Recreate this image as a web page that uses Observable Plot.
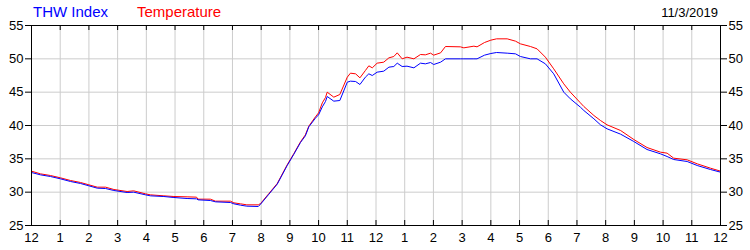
<!DOCTYPE html>
<html><head><meta charset="utf-8">
<script src="https://cdn.jsdelivr.net/npm/d3@7"></script>
<script src="https://cdn.jsdelivr.net/npm/@observablehq/plot@0.6"></script>
<style>
body{margin:0;background:#fff;font-family:"Liberation Sans",Arial,sans-serif;}
#wrap{position:relative;width:750px;height:250px;}
.t{position:absolute;white-space:nowrap;}
</style></head><body>
<div id="wrap">
<span class="t" style="left:33px;top:4px;font-size:15px;line-height:15px;color:#0000ff">THW Index</span>
<span class="t" style="left:137px;top:4px;font-size:15px;line-height:15px;color:#ff0000">Temperature</span>
<span class="t" style="right:32px;top:6px;font-size:13px;line-height:13px;color:#000">11/3/2019</span>
<div id="chart"></div>
</div>
<script>
const hours = [0.00,0.31,0.66,1.01,1.36,1.71,2.00,2.29,2.58,2.87,3.33,3.56,3.97,4.14,4.61,4.96,5.42,5.75,5.80,6.23,6.41,6.93,7.05,7.28,7.50,7.90,7.98,8.27,8.56,8.90,9.14,9.37,9.54,9.66,9.89,10.00,10.13,10.24,10.30,10.53,10.74,11.00,11.11,11.29,11.44,11.63,11.75,11.87,12.04,12.27,12.45,12.62,12.74,12.91,13.08,13.32,13.55,13.72,13.90,14.01,14.25,14.42,14.94,15.06,15.41,15.52,15.78,16.00,16.20,16.57,16.86,17.03,17.38,17.61,17.90,18.19,18.54,18.77,19.12,19.24,19.59,19.82,20.05,20.52,20.98,21.44,21.91,22.14,22.37,22.84,23.19,23.65,24.00];
const temperature = [33.15,32.75,32.5,32.15,31.75,31.45,31.1,30.75,30.75,30.4,30.1,30.2,29.75,29.6,29.45,29.35,29.3,29.25,28.95,28.95,28.65,28.65,28.4,28.25,28.1,28.1,28.3,29.8,31.3,34.05,35.8,37.55,38.6,39.9,41.3,41.9,43.4,44.2,45.0,44.25,44.65,47.25,47.85,47.75,47.15,48.25,48.95,48.65,49.35,49.5,50.15,50.35,50.9,50.0,50.25,50.0,50.65,50.6,50.85,50.55,50.9,51.85,51.8,51.65,51.9,51.8,52.45,52.8,53.0,53.0,52.65,52.25,51.85,51.5,50.25,48.5,46.25,45.0,43.4,42.85,41.5,40.75,40.1,39.25,37.9,36.7,36.0,35.85,35.1,34.85,34.25,33.6,33.15];
const thwIndex = [32.95,32.6,32.35,32.0,31.6,31.3,30.95,30.6,30.55,30.25,29.95,30.0,29.6,29.45,29.35,29.2,29.05,29.0,28.85,28.75,28.55,28.45,28.25,28.05,27.9,27.85,28.2,29.7,31.2,33.95,35.7,37.45,38.45,39.8,41.1,41.6,42.8,43.6,44.35,43.65,43.75,46.5,46.65,46.6,46.15,47.25,47.75,47.5,48.0,48.15,48.75,48.85,49.35,48.85,48.9,48.65,49.35,49.25,49.45,49.15,49.5,50.0,50.0,50.0,50.0,50.0,50.55,50.8,50.95,50.85,50.75,50.35,50.0,50.0,49.25,47.75,45.0,44.0,42.75,42.25,41.0,40.1,39.5,38.7,37.6,36.4,35.75,35.35,34.9,34.6,34.0,33.4,33.0];
const yTicks = [25,30,35,40,45,50,55];
const xTicks = [0,1,2,3,4,5,6,7,8,9,10,11,12,13,14,15,16,17,18,19,20,21,22,23,24];
const xTickLabels = ["12","1","2","3","4","5","6","7","8","9","10","11","12","1","2","3","4","5","6","7","8","9","10","11","12"];

const tempData = hours.map((h, i) => ({h, v: temperature[i]}));
const thwData = hours.map((h, i) => ({h, v: thwIndex[i]}));

const chart = Plot.plot({
  width: 750, height: 250,
  marginLeft: 31, marginRight: 30, marginTop: 25, marginBottom: 25,
  style: {fontFamily: "'Liberation Sans', Arial, sans-serif", fontSize: "13px", color: "black", background: "transparent", overflow: "visible"},
  x: {domain: [0, 24]},
  y: {domain: [25, 55]},
  marks: [
    Plot.gridX(xTicks, {stroke: "#cccccc", strokeOpacity: 1}),
    Plot.gridY(yTicks, {stroke: "#cccccc", strokeOpacity: 1}),
    Plot.line(tempData, {x: "h", y: "v", stroke: "#ff0000", strokeWidth: 1}),
    Plot.line(thwData, {x: "h", y: "v", stroke: "#0000ff", strokeWidth: 1}),
    Plot.frame({stroke: "black"}),
    Plot.axisY(yTicks, {anchor: "left", tickSize: 6, tickPadding: 2, label: null}),
    Plot.axisY(yTicks, {anchor: "right", tickSize: 6, tickPadding: 2, label: null}),
    Plot.axisX(xTicks, {anchor: "bottom", tickSize: 0, tickPadding: 7, tickFormat: d => xTickLabels[xTicks.indexOf(d)], label: null}),
    Plot.tickX(xTicks, {x: d => d, insetTop: 195, stroke: "black"}),
    Plot.tickX(xTicks, {x: d => d, insetBottom: 195, stroke: "black"})
  ]
});
document.getElementById("chart").appendChild(chart);
</script>
</body></html>
